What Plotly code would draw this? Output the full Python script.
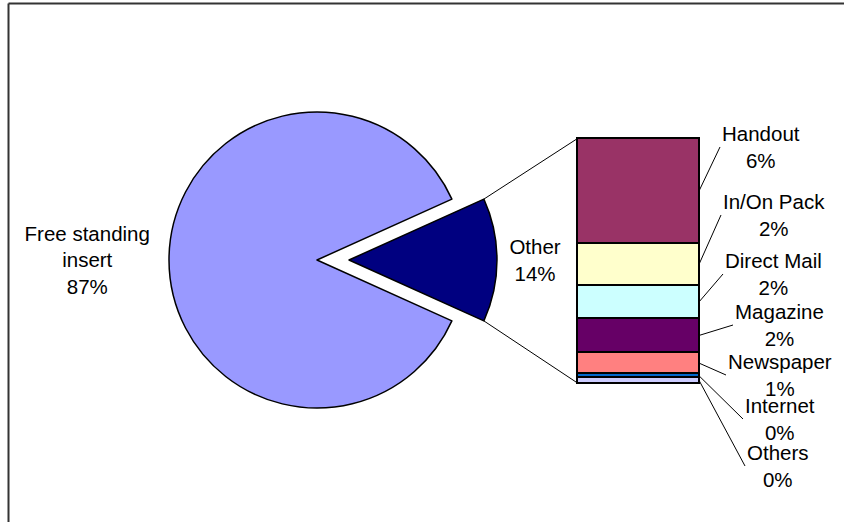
import math
import plotly.graph_objects as go

# Coupon distribution by channel (share of total, %)
main_labels = ["Free standing insert", "Other"]
main_text_names = ["Free standing<br>insert", "Other"]
fsi_share = 86.5

other_labels = ["Handout", "In/On Pack", "Direct Mail", "Magazine",
                "Newspaper", "Internet", "Others"]
other_values = [5.8, 2.3, 1.85, 1.85, 1.2, 0.2, 0.3]

pie_colors = ["#9999FF", "#000080"]
bar_colors = ["#993366", "#FFFFCC", "#CCFFFF", "#660066",
              "#FF8080", "#0066CC", "#CCCCFF"]

# ---- layout geometry (pixels) ----
W, H = 844, 522
FONT = "Liberation Sans, Arial, sans-serif"
FS = 20.5
pie_cx, pie_cy, pie_r, pull_px = 317, 260, 148, 32
bar_left, bar_right, bar_top, bar_bottom = 577.5, 699, 138.5, 383
label_tails = [(720, 147), (721, 215), (723, 274), (733, 325),
               (726, 375), (743, 419), (745, 466)]


def pct_text(v, total):
    return f"{math.floor(v / total * 100 + 0.5 + 1e-9)}%"


other_total = sum(other_values)
grand_total = fsi_share + other_total
pie_values = [other_total, fsi_share]          # "Other" first so it can be rotated to 3 o'clock
pie_names = [main_text_names[1], main_text_names[0]]
pie_text = [f"{n}<br>{pct_text(v, grand_total)}" for n, v in zip(pie_names, pie_values)]

pull = pull_px / pie_r
half_box = pie_r * (1 + pull)
half_deg = 180.0 * other_total / grand_total

fig = go.Figure()

fig.add_trace(go.Pie(
    labels=[main_labels[1], main_labels[0]],
    values=pie_values,
    text=pie_text,
    textinfo="text",
    textposition="outside",
    outsidetextfont=dict(family=FONT, size=FS, color="black"),
    sort=False,
    direction="clockwise",
    rotation=90 - half_deg,
    pull=[pull, 0],
    automargin=False,
    marker=dict(colors=[pie_colors[1], pie_colors[0]], line=dict(color="black", width=1.5)),
    domain=dict(x=[(pie_cx - half_box) / W, (pie_cx + half_box) / W],
                y=[1 - (pie_cy + half_box) / H, 1 - (pie_cy - half_box) / H]),
    showlegend=False,
    hoverinfo="skip",
))

# Stacked bar breaking down "Other"; bottom segment first
for name, v, c in reversed(list(zip(other_labels, other_values, bar_colors))):
    fig.add_trace(go.Bar(
        x=[0], y=[v], width=1, name=name,
        marker=dict(color=c, line=dict(color="black", width=1.5)),
        showlegend=False, hoverinfo="skip",
    ))

pad = 6
bw = bar_right - bar_left
ppu = (bar_bottom - bar_top) / other_total

def y_px(val):
    return bar_bottom - val * ppu

# labels with leader lines pointing at each segment
annotations = []
cum = 0.0
mids = {}
for name, v in reversed(list(zip(other_labels, other_values))):
    mids[name] = cum + v / 2
    cum += v
for (name, v), (tx, ty) in zip(zip(other_labels, other_values), label_tails):
    ymid = mids[name]
    annotations.append(dict(
        x=0.5, y=ymid, xref="x", yref="y",
        text=f"{name}<br>{pct_text(v, grand_total)}",
        showarrow=True, arrowhead=0, arrowwidth=1, arrowcolor="black",
        ax=tx - bar_right, ay=ty - y_px(ymid),
        xanchor="left", yanchor="middle", align="center",
        font=dict(family=FONT, size=FS, color="black"),
        standoff=0,
    ))

# connector lines from the pulled slice to the bar
rad = math.radians(half_deg)
sx = pie_cx + pull_px + pie_r * math.cos(rad)
sy_top = pie_cy - pie_r * math.sin(rad)
sy_bot = pie_cy + pie_r * math.sin(rad)
frame = dict(color="#333333", width=2)
shapes = [
    dict(type="line", xref="paper", yref="paper",
         x0=sx / W, y0=1 - sy_top / H, x1=bar_left / W, y1=1 - y_px(other_total) / H,
         line=dict(color="black", width=1)),
    dict(type="line", xref="paper", yref="paper",
         x0=sx / W, y0=1 - sy_bot / H, x1=bar_left / W, y1=1 - y_px(0) / H,
         line=dict(color="black", width=1)),
    # chart frame: top and left edges
    dict(type="line", xref="paper", yref="paper",
         x0=8.5 / W, y0=1 - 3.5 / H, x1=1.05, y1=1 - 3.5 / H, line=frame),
    dict(type="line", xref="paper", yref="paper",
         x0=8.5 / W, y0=1 - 3.5 / H, x1=8.5 / W, y1=-0.05, line=frame),
]

fig.update_layout(
    width=W, height=H,
    margin=dict(l=0, r=0, t=0, b=0, autoexpand=False),
    paper_bgcolor="white", plot_bgcolor="rgba(0,0,0,0)",
    barmode="stack", bargap=0,
    xaxis=dict(domain=[(bar_left - pad) / W, (bar_right + pad) / W],
               range=[-0.5 - pad / bw, 0.5 + pad / bw], visible=False, fixedrange=True),
    yaxis=dict(domain=[1 - (bar_bottom + pad) / H, 1 - (bar_top - pad) / H],
               range=[-pad / ppu, other_total + pad / ppu], visible=False, fixedrange=True),
    annotations=annotations,
    shapes=shapes,
    font=dict(family=FONT, size=FS, color="black"),
)

fig.write_html("out.html", config={"displayModeBar": False})
